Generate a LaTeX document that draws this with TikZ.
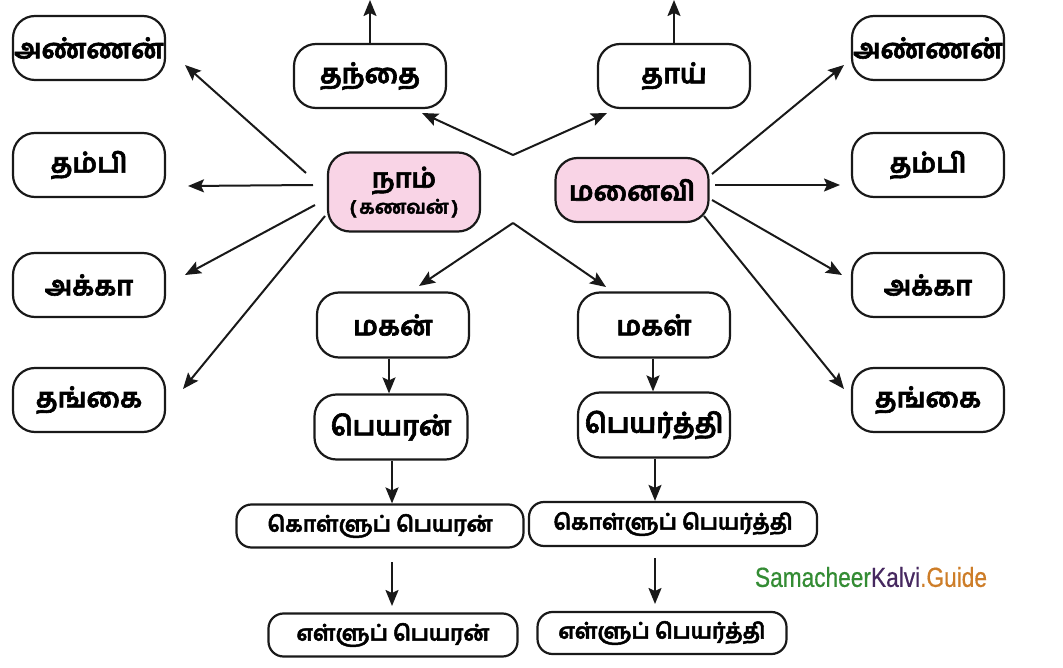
\documentclass[tikz,border=0pt]{standalone}
\usepackage{fontspec}
\newfontfamily\tamil[Script=Tamil,FakeBold=2.2]{Hind Madurai}
\newfontfamily\wmfont[FakeBold=0.6]{Liberation Sans}
\usetikzlibrary{arrows.meta}
\definecolor{pinkfill}{RGB}{249,212,230}
\definecolor{wmgreen}{RGB}{52,140,52}
\definecolor{wmpurple}{RGB}{70,40,95}
\definecolor{wmorange}{RGB}{205,125,40}
\begin{document}
\begin{tikzpicture}[x=1pt,y=-1pt,
  box/.style={draw=black!90,line width=2.2pt,rounded corners=22pt,fill=white,
    minimum width=152pt,minimum height=64pt,inner sep=0pt,align=center,
    font=\tamil\bfseries\fontsize{27}{30}\selectfont},
  pinkbox/.style={box,fill=pinkfill},
  widebox/.style={box,rounded corners=15pt,minimum height=43pt,
    font=\tamil\bfseries\fontsize{21.5}{24}\selectfont},
  arr/.style={draw=black!90,line width=2pt,-{Stealth[length=16pt,width=13pt,inset=3pt]}}]
\useasboundingbox (0,0) rectangle (1063,668);
% boxes
\node[box] (lannan) at (89,48) {அண்ணன்};
\node[box] (lthambi) at (89,165) {தம்பி};
\node[box] (lakka) at (89,285) {அக்கா};
\node[box] (lthangai) at (89,400) {தங்கை};
\node[box] (thandai) at (370,76) {தந்தை};
\node[pinkbox,minimum height=79pt] (naam) at (404,192) {நாம்\\[-4pt]{\fontsize{19}{21}\selectfont (\,கணவன்\,)}};
\node[box] (thaai) at (674,76) {தாய்};
\node[pinkbox,minimum width=153pt] (manaivi) at (632,190) {மனைவி};
\node[box] (rannan) at (928,48) {அண்ணன்};
\node[box] (rthambi) at (928,165) {தம்பி};
\node[box] (rakka) at (928,285) {அக்கா};
\node[box] (rthangai) at (928,400) {தங்கை};
\node[box,minimum height=65pt] (magan) at (393,325) {மகன்};
\node[box,minimum height=65pt,minimum width=153pt] (peyaran) at (391,427) {பெயரன்};
\node[box,minimum height=65pt] (magal) at (654,325) {மகள்};
\node[box,minimum height=65pt] (peyarthi) at (654,425) {பெயர்த்தி};
\node[widebox,minimum width=287pt] (kollu1) at (380,526) {கொள்ளுப் பெயரன்};
\node[widebox,minimum width=288pt,minimum height=44pt] (kollu2) at (673,524) {கொள்ளுப் பெயர்த்தி};
\node[widebox,minimum width=249pt] (ellu1) at (393,635) {எள்ளுப் பெயரன்};
\node[widebox,minimum width=249pt,minimum height=42pt] (ellu2) at (662,633) {எள்ளுப் பெயர்த்தி};
% free coordinates
\coordinate (top1) at (370,0);
\coordinate (top2) at (674,0);
\coordinate (apex1) at (513,155);
\coordinate (apex2) at (513,223);
\coordinate (tthandai) at (422,113);
\coordinate (tthaai) at (607,113);
\coordinate (tmagan) at (419,286);
\coordinate (tmagal) at (606,287);
\coordinate (ls1) at (306,173);
\coordinate (ls2) at (313,185);
\coordinate (ls3) at (315,205);
\coordinate (ls4) at (325,216);
\coordinate (lt1) at (185,65);
\coordinate (lt2) at (188,186);
\coordinate (lt3) at (185,275);
\coordinate (lt4) at (183,389);
\coordinate (rs1) at (712,174);
\coordinate (rs2) at (715,185);
\coordinate (rs3) at (712,200);
\coordinate (rs4) at (704,216);
\coordinate (rt1) at (844,65);
\coordinate (rt2) at (840,185);
\coordinate (rt3) at (842,275);
\coordinate (rt4) at (844,389);
\coordinate (ka1) at (392,562);
\coordinate (kb1) at (392,606);
\coordinate (ka2) at (655,558);
\coordinate (kb2) at (655,604);
% connectors
\draw[arr] (thandai.north) -- (top1);
\draw[arr] (thaai.north) -- (top2);
\draw[arr] (apex1) -- (tthandai);
\draw[arr] (apex1) -- (tthaai);
\draw[arr] (apex2) -- (tmagan);
\draw[arr] (apex2) -- (tmagal);
\draw[arr] (ls1) -- (lt1);
\draw[arr] (ls2) -- (lt2);
\draw[arr] (ls3) -- (lt3);
\draw[arr] (ls4) -- (lt4);
\draw[arr] (rs1) -- (rt1);
\draw[arr] (rs2) -- (rt2);
\draw[arr] (rs3) -- (rt3);
\draw[arr] (rs4) -- (rt4);
\draw[arr] (magan.south -| 389,0) -- (peyaran.north -| 389,0);
\draw[arr] (magal.south -| 653,0) -- (peyarthi.north -| 653,0);
\draw[arr] (peyaran.south -| 392,0) -- (kollu1.north -| 392,0);
\draw[arr] (peyarthi.south -| 655,0) -- (kollu2.north -| 655,0);
\draw[arr] (ka1) -- (kb1);
\draw[arr] (ka2) -- (kb2);
% watermark
\node[inner sep=0pt] (wm) at (871,577) {\resizebox{232pt}{20pt}{\wmfont\textcolor{wmgreen}{Samacheer}\textcolor{wmpurple}{Kalvi}\textcolor{wmorange}{.Guide}}};
\end{tikzpicture}
\end{document}
